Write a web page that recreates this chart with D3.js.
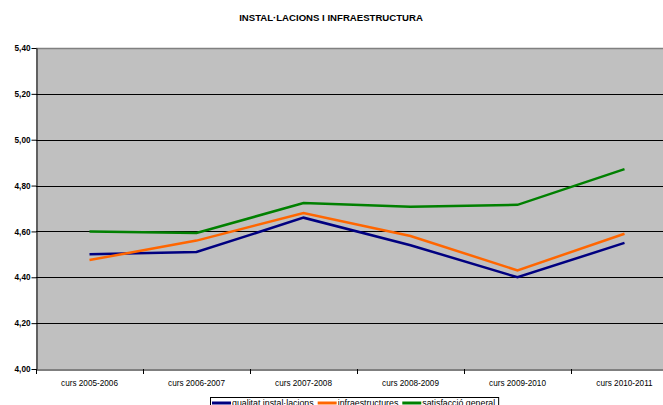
<!DOCTYPE html>
<html><head><meta charset="utf-8">
<script src="https://cdn.jsdelivr.net/npm/d3@7"></script>
<style>body{margin:0;background:#fff;overflow:hidden}svg{display:block;font-family:Arial,"Liberation Sans",sans-serif}</style>
</head><body><svg id="c" width="663" height="405"></svg>
<script>
const categories=["curs 2005-2006","curs 2006-2007","curs 2007-2008","curs 2008-2009","curs 2009-2010","curs 2010-2011"];
const seriesNames=["qualitat instal·lacions","infraestructures","satisfacció general"];
const qualitat=[4.50,4.51,4.66,4.54,4.40,4.55];
const infraestructures=[4.475,4.56,4.68,4.58,4.43,4.59];
const satisfaccio=[4.60,4.593,4.724,4.708,4.716,4.872];
const yTicks=[4.0,4.2,4.4,4.6,4.8,5.0,5.2,5.4];
const colors=["#000080","#FF6600","#008000"];
const seriesVals=[qualitat,infraestructures,satisfaccio];

const svg=d3.select("#c");
const L=36,R=678,T=48,B=369;
const x=d3.scaleBand().domain(categories).range([L,R]);
const y=d3.scaleLinear().domain([4,5.4]).range([B,T]);

svg.append("text").attr("x",331).attr("y",21).attr("text-anchor","middle")
 .attr("font-weight","bold").attr("font-size",9.6).text("INSTAL·LACIONS I INFRAESTRUCTURA");

svg.append("rect").attr("x",L).attr("y",T).attr("width",R-L).attr("height",B-T).attr("fill","#c0c0c0");
svg.append("g").selectAll("line").data(yTicks.filter(d=>d>4&&d<5.4)).join("line")
 .attr("x1",L).attr("x2",R).attr("y1",d=>Math.round(y(d))+0.5).attr("y2",d=>Math.round(y(d))+0.5)
 .attr("stroke","#000").attr("stroke-width",1);
svg.append("line").attr("x1",L).attr("x2",R).attr("y1",T+0.5).attr("y2",T+0.5).attr("stroke","#808080").attr("stroke-width",1.5);

const ya=svg.append("g").attr("transform",`translate(${L+0.5},0)`)
 .call(d3.axisLeft(y).tickValues(yTicks).tickSize(5).tickSizeOuter(0).tickFormat(d=>d3.format(".2f")(d).replace(".",",")));
ya.select(".domain").attr("stroke","#000");
ya.selectAll("text").attr("font-weight","bold").attr("font-size",8.2).attr("font-family","Arial,'Liberation Sans',sans-serif").attr("fill","#000").attr("x",-6);
ya.selectAll("line").attr("stroke","#000");

const xa=svg.append("g").attr("transform",`translate(0,${B+0.5})`)
 .call(d3.axisBottom(x).tickSize(0).tickSizeOuter(0));
xa.select(".domain").attr("stroke","#000");
xa.selectAll("text").attr("font-size",8.2).attr("font-family","Arial,'Liberation Sans',sans-serif").attr("fill","#000").attr("dy","0").attr("y",16);
svg.append("g").selectAll("line").data(categories).join("line")
 .attr("x1",d=>Math.round(x(d))+0.5).attr("x2",d=>Math.round(x(d))+0.5).attr("y1",B).attr("y2",B+5).attr("stroke","#000");

const line=d3.line().x((d,i)=>x(categories[i])+x.bandwidth()/2).y(d=>y(d));
seriesVals.forEach((vals,k)=>{
 svg.append("path").datum(vals).attr("d",line).attr("fill","none").attr("stroke",colors[k]).attr("stroke-width",2.5).attr("stroke-linejoin","miter");
});

// legend
const lg=svg.append("g");
const box=lg.append("rect").attr("x",210.5).attr("y",397.5).attr("height",16).attr("fill","#fff").attr("stroke","#000");
let cx=212;
seriesNames.forEach((n,k)=>{
 lg.append("line").attr("x1",cx).attr("x2",cx+19).attr("y1",403).attr("y2",403).attr("stroke",colors[k]).attr("stroke-width",3);
 const t=lg.append("text").attr("x",cx+20).attr("y",406).attr("font-size",8.8).text(n);
 cx+=20+t.node().getComputedTextLength()+4;
});
box.attr("width",cx-211);
</script></body></html>
